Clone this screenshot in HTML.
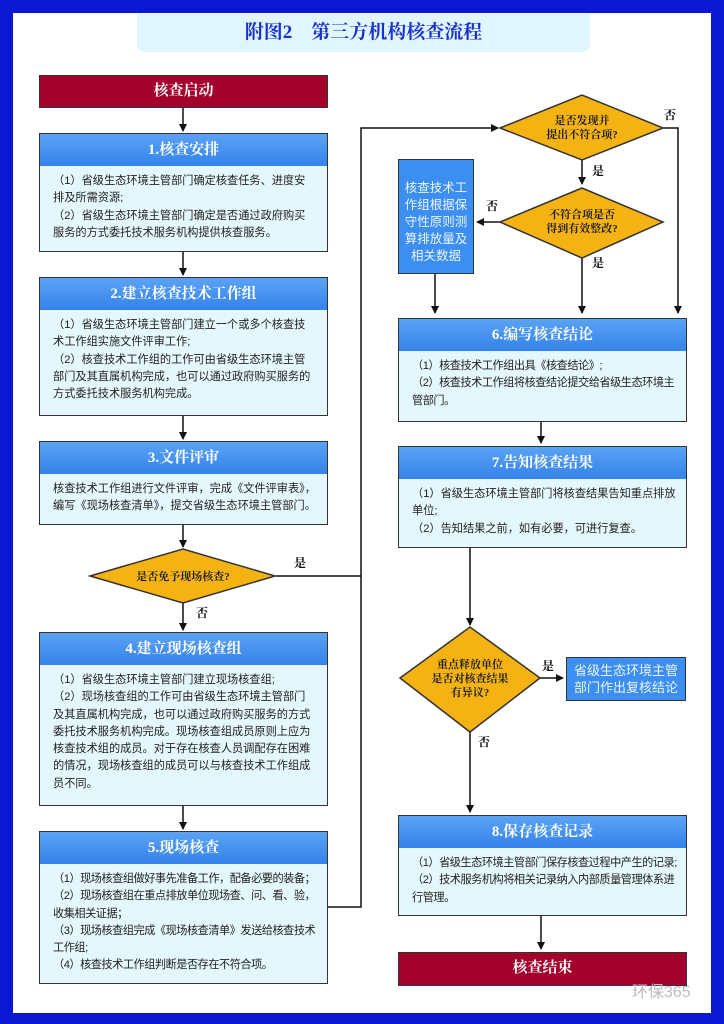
<!DOCTYPE html>
<html><head><meta charset="utf-8">
<style>
*{margin:0;padding:0;box-sizing:border-box}
body{width:724px;height:1024px;background:#0a18d4;position:relative;overflow:hidden;font-family:"Liberation Sans","Noto Sans CJK SC",sans-serif}
#in{position:absolute;left:13px;top:13px;width:698px;height:1000px;background:#fff}
.t{position:absolute;left:137px;top:14px;width:453px;height:38px;background:#dff6fc;border-radius:0 0 8px 8px;color:#1a2fd0;font:bold 19px "Liberation Serif","Noto Serif CJK SC",serif;text-align:center;line-height:38px}
.b{position:absolute;border:1.5px solid #333;background:#e4f7fc;overflow:hidden}
.h{background:linear-gradient(#5aa3f5,#3583ea);color:#fff;font:bold 15px "Liberation Serif","Noto Serif CJK SC",serif;text-align:center;height:32px;line-height:32px}
.c{font-size:11.2px;line-height:17.3px;color:#222;padding:7px 0 0 13px;letter-spacing:0;white-space:nowrap}
.c.n{letter-spacing:-0.5px}
.r{position:absolute;background:#a3002b;border:1.5px solid #333;color:#fff;font:bold 15px "Liberation Serif","Noto Serif CJK SC",serif;text-align:center}
.s{position:absolute;background:#3c8ef0;border:1.5px solid #333;color:#e8f4ff;line-height:17px;text-align:center}
svg{position:absolute;left:0;top:0}
.dt{font:bold 11px "Liberation Serif","Noto Serif CJK SC",serif;fill:#222}
.lb{font:bold 12px "Liberation Serif","Noto Serif CJK SC",serif;fill:#111}
</style></head><body>
<div id="in"></div>
<div class="t">附图2　第三方机构核查流程</div>
<div class="r" style="left:39px;top:75px;width:289px;height:33px;line-height:30px">核查启动</div>
<div class="b" style="left:39px;top:133px;width:289px;height:119px"><div class="h">1.核查安排</div><div class="c">（1）省级生态环境主管部门确定核查任务、进度安<br>排及所需资源;<br>（2）省级生态环境主管部门确定是否通过政府购买<br>服务的方式委托技术服务机构提供核查服务。</div></div>
<div class="b" style="left:39px;top:277px;width:289px;height:139px"><div class="h">2.建立核查技术工作组</div><div class="c">（1）省级生态环境主管部门建立一个或多个核查技<br>术工作组实施文件评审工作;<br>（2）核查技术工作组的工作可由省级生态环境主管<br>部门及其直属机构完成，也可以通过政府购买服务的<br>方式委托技术服务机构完成。</div></div>
<div class="b" style="left:39px;top:441px;width:289px;height:84px"><div class="h">3.文件评审</div><div class="c">核查技术工作组进行文件评审，完成《文件评审表》，<br>编写《现场核查清单》，提交省级生态环境主管部门。</div></div>
<div class="b" style="left:39px;top:632px;width:289px;height:174px"><div class="h">4.建立现场核查组</div><div class="c">（1）省级生态环境主管部门建立现场核查组;<br>（2）现场核查组的工作可由省级生态环境主管部门<br>及其直属机构完成，也可以通过政府购买服务的方式<br>委托技术服务机构完成。现场核查组成员原则上应为<br>核查技术组的成员。对于存在核查人员调配存在困难<br>的情况，现场核查组的成员可以与核查技术工作组成<br>员不同。</div></div>
<div class="b" style="left:39px;top:831px;width:289px;height:153px"><div class="h">5.现场核查</div><div class="c n">（1）现场核查组做好事先准备工作，配备必要的装备；<br>（2）现场核查组在重点排放单位现场查、问、看、验，<br>收集相关证据；<br>（3）现场核查组完成《现场核查清单》发送给核查技术<br>工作组;<br>（4）核查技术工作组判断是否存在不符合项。</div></div>
<div class="s" style="left:398px;top:159px;width:76px;height:115px;padding:20px 5px 0;font-size:12.5px">核查技术工作组根据保守性原则测算排放量及相关数据</div>
<div class="b" style="left:398px;top:318px;width:289px;height:104px"><div class="h">6.编写核查结论</div><div class="c n">（1）核查技术工作组出具《核查结论》;<br>（2）核查技术工作组将核查结论提交给省级生态环境主<br>管部门。</div></div>
<div class="b" style="left:398px;top:446px;width:289px;height:102px"><div class="h">7.告知核查结果</div><div class="c">（1）省级生态环境主管部门将核查结果告知重点排放<br>单位;<br>（2）告知结果之前，如有必要，可进行复查。</div></div>
<div class="s" style="left:566px;top:657px;width:120px;height:44px;padding:4px 6px 0;font-size:13px">省级生态环境主管部门作出复核结论</div>
<div class="b" style="left:398px;top:815px;width:289px;height:101px"><div class="h">8.保存核查记录</div><div class="c n">（1）省级生态环境主管部门保存核查过程中产生的记录;<br>（2）技术服务机构将相关记录纳入内部质量管理体系进<br>行管理。</div></div>
<div class="r" style="left:398px;top:952px;width:289px;height:34px;line-height:31px">核查结束</div>
<svg width="724" height="1024">
<defs><marker id="a" markerWidth="8" markerHeight="8" refX="7" refY="4" orient="auto" markerUnits="userSpaceOnUse"><path d="M0,0L8,4L0,8z" fill="#111"/></marker></defs>
<g stroke="#111" stroke-width="1.5" fill="none">
<path d="M183 108V131" marker-end="url(#a)"/>
<path d="M183 252V275" marker-end="url(#a)"/>
<path d="M183 416V439" marker-end="url(#a)"/>
<path d="M183 525V547" marker-end="url(#a)"/>
<path d="M183 603V630" marker-end="url(#a)"/>
<path d="M183 806V829" marker-end="url(#a)"/>
<path d="M275 576H361"/>
<path d="M328 907H361V128H498" marker-end="url(#a)"/>
<path d="M663 128H678V313" marker-end="url(#a)"/>
<path d="M582 160V184" marker-end="url(#a)"/>
<path d="M500 222H477" marker-end="url(#a)"/>
<path d="M582 258V313" marker-end="url(#a)"/>
<path d="M435 274V313" marker-end="url(#a)"/>
<path d="M541 422V443" marker-end="url(#a)"/>
<path d="M470 548V625" marker-end="url(#a)"/>
<path d="M540 678H563" marker-end="url(#a)"/>
<path d="M470 732V812" marker-end="url(#a)"/>
<path d="M541 916V949" marker-end="url(#a)"/>
</g>
<g fill="#f4b312" stroke="#333" stroke-width="1.5">
<polygon points="90,576 183,549 275,576 183,603"/>
<polygon points="500,128 582,95 663,128 582,160"/>
<polygon points="500,222 582,188 663,222 582,258"/>
<polygon points="400,678 470,627 540,678 470,732"/>
</g>
<g class="dt" text-anchor="middle">
<text x="183" y="580">是否免予现场核查?</text>
<text x="582" y="124">是否发现并</text><text x="582" y="138">提出不符合项?</text>
<text x="582" y="218">不符合项是否</text><text x="582" y="232">得到有效整改?</text>
<text x="470" y="668">重点释放单位</text><text x="470" y="682">是否对核查结果</text><text x="470" y="696">有异议?</text>
</g>
<g class="lb">
<text x="294" y="567">是</text><text x="196" y="617">否</text>
<text x="664" y="119">否</text><text x="592" y="175">是</text>
<text x="486" y="210">否</text><text x="592" y="267">是</text>
<text x="542" y="670">是</text><text x="478" y="746">否</text>
</g>
<text x="632" y="997" font-size="16" fill="#bbb" font-family="Liberation Sans,Noto Sans CJK SC,sans-serif">环保365</text>
</svg>
</body></html>
